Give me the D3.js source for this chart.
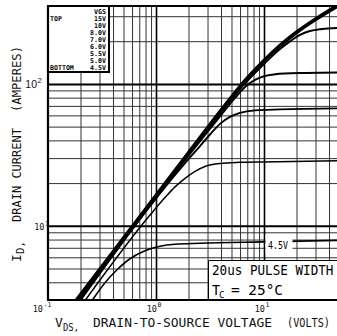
<!DOCTYPE html>
<html><head><meta charset="utf-8">
<script src="https://cdn.jsdelivr.net/npm/d3@7"></script>
<style>body{margin:0;background:#fff}svg{display:block}</style>
</head><body>
<svg id="c" width="337" height="336"></svg>
<script>
// ---- data (VDS volts, ID amperes) ----
const vgsLabels = ["15V","10V","8.0V","7.0V","6.0V","5.5V","5.0V","4.5V"];
const curve15V = [[0.1795,3],[2.556,42.7],[3.914,65.0],[6.668,107.5],[9.79,146.5],[14.06,189.5],[20.21,236.5],[29.65,289],[47.4,360]];
const curve10V = [[0.1825,3],[2.556,42.0],[3.914,64.0],[6.668,105.5],[9.79,144],[14.06,186],[20.21,232.4],[29.65,284.5],[47.4,354]];
const curve8V  = [[0.1855,3],[2.556,41.3],[3.914,63.0],[6.668,103.5],[9.79,141.5],[14.06,182.5],[20.21,228],[29.65,279],[47.4,347]];
const curve7V  = [[0.189,3],[2.556,40.6],[3.914,61.8],[6.668,101],[9.79,136],[14.06,176],[17.4,199.2],[21.5,221.4],[26.6,236.1],[34.4,244],[47.4,248]];
const curve6V  = [[0.194,3],[2.556,39.5],[3.914,59.0],[5.39,79.7],[6.668,95.2],[8.26,106.7],[10.2,113.8],[15.6,118.6],[24.0,119.5],[47.4,120.5]];
const curve55V = [[0.201,3],[1.857,27.7],[2.556,36.5],[3.162,44.0],[3.914,52.3],[4.84,58.6],[5.99,62.5],[8.26,65.1],[14.06,66.1],[24.0,66.7],[47.4,67.2]];
const curve5V  = [[0.222,3],[0.880,11.9],[1.211,15.8],[1.50,18.8],[1.857,21.6],[2.30,24.2],[2.84,26.2],[3.914,27.5],[5.99,28.0],[9.79,28.2],[47.4,28.7]];
const curve45V = [[0.258,3],[0.337,3.97],[0.436,4.90],[0.574,5.86],[0.791,6.67],[1.089,7.17],[1.50,7.41],[2.556,7.53],[9.79,7.71],[47.4,7.9]];
const xMinorGrid = [0.2,0.3,0.4,0.5,0.6,0.7,0.8,0.9,2,3,4,5,6,7,8,9,20,30,40,50];
const xMajorGrid = [1,10];
const yMinorGrid = [4,5,6,7,8,9,20,30,40,50,60,70,80,90,200,300];
const yMajorGrid = [10,100];
const xTickExps = ["-1","0","1"];
const xTickVals = [0.1,1,10];
const yTickExps = ["1","2"];
const yTickVals = [10,100];

// ---- drawing ----
const svg = d3.select("#c");
svg.append("rect").attr("width",337).attr("height",336).attr("fill","#fff");
const L = 48, T = 6, B = 300, R = 337;
const x = d3.scaleLog().domain([0.1,100]).range([L,372]);
const y = d3.scaleLog().domain([3,354]).range([B,T]);

svg.append("defs").append("clipPath").attr("id","clip")
  .append("rect").attr("x",L).attr("y",T).attr("width",R-L).attr("height",B-T);

const plot = svg.append("g").attr("clip-path","url(#clip)");

function grid(axisGen, vals, w, col){
  const g = plot.append("g").call(axisGen.tickValues(vals).tickFormat(""));
  g.select(".domain").remove();
  g.selectAll("line").attr("stroke",col).attr("stroke-width",w);
  return g;
}
grid(d3.axisBottom(x).tickSize(-(B-T)), xMinorGrid, 1, "#333").attr("transform",`translate(0,${B})`);
grid(d3.axisLeft(y).tickSize(-(R-L)), yMinorGrid, 1, "#333").attr("transform",`translate(${L},0)`);
grid(d3.axisBottom(x).tickSize(-(B-T)), xMajorGrid, 1.6, "#000").attr("transform",`translate(0,${B})`);
grid(d3.axisLeft(y).tickSize(-(R-L)), yMajorGrid, 2, "#000").attr("transform",`translate(${L},0)`);

const line = d3.line().x(d=>x(d[0])).y(d=>y(d[1])).curve(d3.curveMonotoneX);
const curves = [
  {d:curve15V,w:2},{d:curve10V,w:2},{d:curve8V,w:2},{d:curve7V,w:2},
  {d:curve6V,w:2},{d:curve55V,w:1.9},{d:curve5V,w:1.5},{d:curve45V,w:1.6}
];
plot.selectAll("path.curve").data(curves).join("path").attr("class","curve")
  .attr("d",c=>line(c.d)).attr("fill","none").attr("stroke","#000")
  .attr("stroke-width",c=>c.w).attr("stroke-linejoin","round");

// 4.5V inline label
const lab = x(10);
plot.append("rect").attr("x",lab+1.5).attr("y",y(8.6)).attr("width",27).attr("height",17).attr("fill","#fff");
svg.append("text").attr("x",lab+4).attr("y",y(6.9)).attr("font-family","DejaVu Sans Mono")
  .attr("font-size",11).attr("textLength",20).attr("lengthAdjust","spacingAndGlyphs").text("4.5V");

// pulse-width box
const bx = 208, by = 260;
svg.append("rect").attr("x",bx).attr("y",by).attr("width",R-bx+2).attr("height",B-by).attr("fill","#fff");
svg.append("path").attr("d",`M${bx+0.5},${B}V${by+0.5}H${R}`).attr("fill","none").attr("stroke","#000").attr("stroke-width",1);
svg.append("text").attr("transform","translate(212,275) scale(0.935,1)").attr("font-family","DejaVu Sans Mono").attr("font-size",13.5)
  .text("20us PULSE WIDTH");
svg.append("text").attr("x",212).attr("y",295).attr("font-family","DejaVu Sans Mono").attr("font-size",13.5).text("T");
svg.append("text").attr("x",219).attr("y",298).attr("font-family","DejaVu Sans Mono").attr("font-size",9).text("C");
svg.append("text").attr("x",231).attr("y",295).attr("font-family","DejaVu Sans Mono").attr("font-size",13.5)
  .attr("textLength",52).attr("lengthAdjust","spacingAndGlyphs").text("= 25°C");

// legend box
svg.append("rect").attr("x",L).attr("y",T).attr("width",61).attr("height",66).attr("fill","#fff")
  .attr("stroke","#000").attr("stroke-width",2);
const lg = svg.append("g").attr("font-family","DejaVu Sans Mono").attr("font-size",6.6).attr("font-weight","bold");
lg.append("text").attr("x",106).attr("y",13.5).attr("text-anchor","end").text("VGS");
lg.selectAll("text.v").data(vgsLabels).join("text").attr("class","v")
  .attr("x",106).attr("y",(d,i)=>20.5+7*i).attr("text-anchor","end").text(d=>d);
lg.append("text").attr("x",50).attr("y",20.5).text("TOP");
lg.append("text").attr("x",50).attr("y",69.5).text("BOTTOM");

// frame
svg.append("path").attr("d",`M${R},${T}H${L}V${B}H${R}`).attr("fill","none").attr("stroke","#000").attr("stroke-width",2.2);

// tick labels
const xt = svg.append("g").attr("font-family","DejaVu Sans Mono").attr("fill","#111");
xTickVals.forEach((v,i)=>{
  const px = x(v) + (i===0 ? -5 : 1);
  xt.append("text").attr("x",px).attr("y",312).attr("text-anchor","end").attr("font-size",8.5).text("10");
  xt.append("text").attr("x",px+0.5).attr("y",307).attr("font-size",6.5).text(xTickExps[i]);
});
yTickVals.forEach((v,i)=>{
  const py = y(v);
  if(i===1){
    xt.append("text").attr("x",37).attr("y",py+4).attr("text-anchor","end").attr("font-family","Liberation Sans").attr("font-size",10.5).text("10");
    xt.append("text").attr("x",37.5).attr("y",py-1).attr("font-family","Liberation Sans").attr("font-size",7.5).text(yTickExps[i]);
  } else {
    xt.append("text").attr("x",44.5).attr("y",py+4).attr("text-anchor","end").attr("font-size",8.5).text("10");
    xt.append("text").attr("x",45).attr("y",py).attr("font-size",6.5).text(yTickExps[i]);
  }
});

// axis titles
const tf = "DejaVu Sans Mono";
const xtitle = svg.append("g").attr("font-family",tf).attr("fill","#111");
xtitle.append("text").attr("x",55).attr("y",327).attr("font-size",13).text("V");
xtitle.append("text").attr("x",63).attr("y",331).attr("font-size",10).attr("textLength",16).attr("lengthAdjust","spacingAndGlyphs").text("DS,");
xtitle.append("text").attr("x",93).attr("y",327).attr("font-size",13).attr("textLength",179).attr("lengthAdjust","spacingAndGlyphs").text("DRAIN-TO-SOURCE VOLTAGE");
xtitle.append("text").attr("transform","translate(287,327) scale(0.785,1)").attr("font-size",13).text("(VOLTS)");

const yt = svg.append("g").attr("font-family",tf).attr("fill","#111");
yt.append("text").attr("transform","translate(21,262) rotate(-90)").attr("font-size",13).text("I");
yt.append("text").attr("transform","translate(24,254) rotate(-90)").attr("font-size",10).attr("textLength",13).attr("lengthAdjust","spacingAndGlyphs").text("D,");
yt.append("text").attr("transform","translate(21,222) rotate(-90)").attr("font-size",13).attr("textLength",94).attr("lengthAdjust","spacingAndGlyphs").text("DRAIN CURRENT");
yt.append("text").attr("transform","translate(21,112) rotate(-90)").attr("font-size",13).attr("textLength",66).attr("lengthAdjust","spacingAndGlyphs").text("(AMPERES)");
</script>
</body></html>
